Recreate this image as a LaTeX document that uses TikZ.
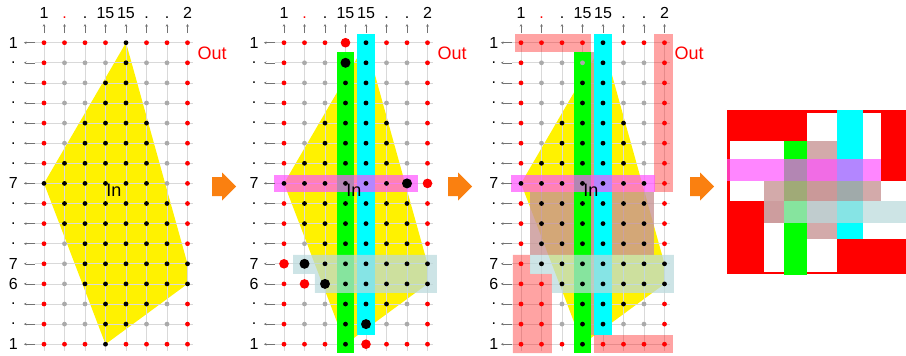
\documentclass[tikz,border=0pt]{standalone}
\usepackage{fontspec}
\setmainfont{Liberation Sans}
\usetikzlibrary{arrows.meta}
\definecolor{gridgray}{RGB}{217,217,217}
\definecolor{dotgray}{RGB}{170,170,170}
\definecolor{barlime}{RGB}{0,255,0}
\definecolor{barcyan}{RGB}{0,255,255}
\definecolor{barmag}{RGB}{255,83,255}
\definecolor{barteal}{RGB}{186,218,220}
\definecolor{bartan}{RGB}{200,149,149}
\definecolor{arroworange}{RGB}{250,128,16}

\begin{document}
\begin{tikzpicture}[x=1pt,y=-1pt,>={Stealth[length=2.6pt,width=2.6pt]},
  gridline/.style={draw=gridgray,line width=0.8pt},
  tick/.style={->,draw=black!55,line width=0.6pt},
  lab/.style={font=\fontsize{16}{19}\selectfont,inner sep=0pt},
  dr/.style={fill=red,radius=2.4pt},
  dg/.style={fill=dotgray,radius=2.4pt},
  db/.style={fill=black,radius=2.4pt},
  DR/.style={fill=red,radius=4.8pt},
  DB/.style={fill=black,radius=5pt},
  hull/.style={fill=yellow},
  greenbar/.style={fill=barlime},
  cyanbar/.style={fill=barcyan},
  magbar/.style={fill=barmag,fill opacity=0.7},
  tealbar/.style={fill=barteal,fill opacity=0.72},
  tanbar/.style={fill=bartan,fill opacity=0.8},
  pinkbar/.style={fill=red,fill opacity=0.36},
  blockarrow/.style={fill=arroworange}]
  \useasboundingbox (0,0) rectangle (906,356);
  % in / out pattern of the sample points
  \def\dotsbase{{dr,dr,dr,dr,db,dr,dr,dr},{dr,dg,dg,dg,db,dg,dg,dr},
    {dr,dg,dg,db,db,dg,dg,dr},{dr,dg,dg,db,db,dg,dg,dr},{dr,dg,db,db,db,db,dg,dr},
    {dr,dg,db,db,db,db,dg,dr},{dr,db,db,db,db,db,dg,dr},{db,db,db,db,db,db,dg,dr},
    {dr,db,db,db,db,db,db,dr},{dr,db,db,db,db,db,db,dr},{dr,dg,db,db,db,db,db,dr},
    {dr,dg,db,db,db,db,db,db},{dr,dg,db,db,db,db,db,db},{dr,dg,dg,db,db,db,dg,dr},
    {dr,dg,dg,db,db,dg,dg,dr},{dr,dr,dr,db,dr,dr,dr,dr}}
  \foreach \p/\xo/\xl in {1/44/-1.5,2/284/-1.46,3/521/-1.33}{
    \begin{scope}[shift={(\xo,42.7)},x=20.5pt,y=-20.1pt]
      \fill[hull] (4,0) -- (7,11) -- (7,12) -- (3,15) -- (0,7) -- cycle;
      \foreach \r in {0,...,15} \draw[gridline] (-0.44,\r) -- (7.25,\r);
      \foreach \c in {0,...,7} \draw[gridline] (\c,0) -- (\c,15.35);
      % out regions (panel 3)
      \ifnum\p=3
        \fill[pinkbar] (-0.3,-0.42) rectangle (3.43,0.47);
        \fill[pinkbar] (6.5,-0.42) rectangle (7.42,7.43);
        \fill[pinkbar] (-0.4,10.55) -- (0.44,10.55) -- (0.44,11.5) -- (1.5,11.5)
          -- (1.5,15.45) -- (-0.4,15.45) -- cycle;
        \fill[pinkbar] (3.57,14.54) rectangle (7.42,15.45);
        \fill[tanbar] (2.6,0.47) rectangle (4.4,14.52);
        \fill[tanbar] (0.44,7.43) rectangle (6.5,10.55);
      \fi
      % scan lines
      \ifnum\p>1
        \fill[greenbar] (2.57,0.47) rectangle (3.43,15.45);
        \fill[cyanbar] (3.57,-0.43) rectangle (4.43,14.52);
        \fill[magbar] (-0.47,6.57) rectangle (6.54,7.43);
        \fill[tealbar] (0.44,10.55) -- (7.46,10.55) -- (7.46,12.45) -- (1.5,12.45)
          -- (1.5,11.5) -- (0.44,11.5) -- cycle;
      \fi
      \foreach \row [count=\r from 0] in \dotsbase
        \foreach \k [count=\c from 0] in \row
          \fill[\k] (\c,\r) circle;
      \ifnum\p=2
        \foreach \c/\r/\k in {3/0/DR,3/1/DB,6/7/DB,7/7/DR,0/11/DR,1/11/DB,
          1/12/DR,2/12/DB,4/14/DB,4/15/DR}
          \fill[\k] (\c,\r) circle;
      \fi
      \ifnum\p=3
        \foreach \c/\r/\k in {6/7/db,1/10/db,1/11/db,1/12/dr,1/13/dr,1/14/dr}
          \fill[\k] (\c,\r) circle;
      \fi
      % axes
      \foreach \t/\tc [count=\c from 0] in {1/black,./red,./black,15/black,
        15/black,./black,./black,2/black}{
        \node[lab,anchor=base,text=\tc] (cl\p-\c) at (\c,-1.21) {\t};
        \coordinate (ct\p-\c) at (\c,-0.48);
        \coordinate (ch\p-\c) at (\c,-0.93);
        \draw[tick] (ct\p-\c) -- (ch\p-\c);
      }
      \foreach \t [count=\r from 0] in {1,.,.,.,.,.,.,7,.,.,.,7,6,.,.,1}{
        \node[lab] (rl\p-\r) at (\xl,\r) {\t};
        \coordinate (rt\p-\r) at (-0.44,\r);
        \coordinate (rh\p-\r) at (-0.98,\r);
        \draw[tick] (rt\p-\r) -- (rh\p-\r);
      }
      \node[font=\fontsize{18}{20}\selectfont] (in\p) at (3.41,7.33) {In};
      \node[font=\fontsize{18}{20}\selectfont,text=red] (out\p) at (8.2,0.54) {Out};
    \end{scope}
  }
  % result
  \fill[red] (727.3,110) rectangle (906,274);
  \fill[white] (806.7,112.7) rectangle (837.3,272);
  \fill[white] (863,112.7) rectangle (880.7,239);
  \fill[white] (880.7,180.7) rectangle (906,239);
  \fill[white] (730,140.7) rectangle (784,201);
  \fill[white] (764.3,222.7) rectangle (784,272.3);
  \fill[greenbar] (784,140.7) rectangle (807.3,275);
  \fill[cyanbar] (837.3,110) rectangle (863,239);
  \fill[tanbar] (806.7,140.7) rectangle (837.3,239);
  \fill[tanbar] (764.3,180.7) rectangle (880.7,201);
  \fill[magbar] (727.3,159) rectangle (880.7,180.7);
  \fill[tealbar] (764.3,201) rectangle (906,222.7);
  \foreach \a in {212,448,690}
    \fill[blockarrow] (\a,177) -- (\a+10,177) -- (\a+10,172.5) -- (\a+24,186.5)
      -- (\a+10,200.5) -- (\a+10,196) -- (\a,196) -- cycle;
\end{tikzpicture}
\end{document}
